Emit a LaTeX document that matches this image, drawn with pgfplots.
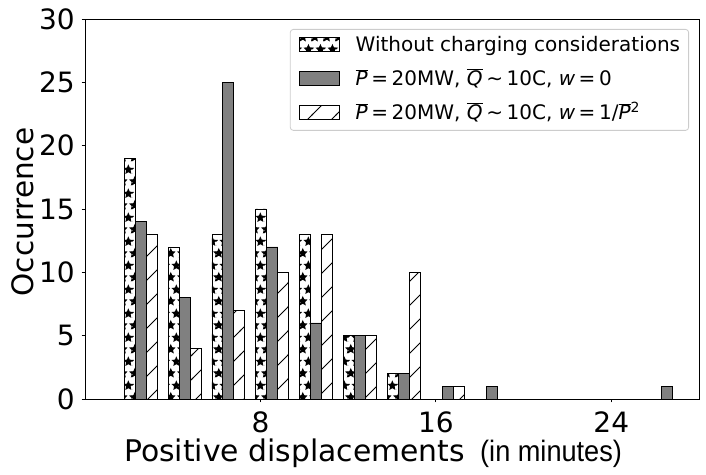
\documentclass[border=0pt]{standalone}
\usepackage{fontspec}
\setmainfont{DejaVu Sans}
\newfontfamily\libsans{Liberation Sans}
\usepackage{pgfplots}
\pgfplotsset{compat=1.18}
\usetikzlibrary{patterns}

% five-pointed star, outer radius 5.5bp, inner 2.6bp
\newcommand\starat[2]{%
\pgfpathmoveto{\pgfpoint{#1+0bp}{#2+5.5bp}}%
\pgfpathlineto{\pgfpoint{#1-1.53bp}{#2+2.10bp}}%
\pgfpathlineto{\pgfpoint{#1-5.23bp}{#2+1.70bp}}%
\pgfpathlineto{\pgfpoint{#1-2.47bp}{#2-0.80bp}}%
\pgfpathlineto{\pgfpoint{#1-3.23bp}{#2-4.45bp}}%
\pgfpathlineto{\pgfpoint{#1+0bp}{#2-2.6bp}}%
\pgfpathlineto{\pgfpoint{#1+3.23bp}{#2-4.45bp}}%
\pgfpathlineto{\pgfpoint{#1+2.47bp}{#2-0.80bp}}%
\pgfpathlineto{\pgfpoint{#1+5.23bp}{#2+1.70bp}}%
\pgfpathlineto{\pgfpoint{#1+1.53bp}{#2+2.10bp}}%
\pgfpathclose}

\pgfdeclarepatternformonly{mystars}{\pgfpointorigin}{\pgfpoint{12bp}{24bp}}{\pgfpoint{12bp}{24bp}}{%
\starat{3bp}{6bp}\starat{15bp}{6bp}\starat{9bp}{18bp}\starat{-3bp}{18bp}\pgfusepath{fill}}

\pgfdeclarepatternformonly{myhatch}{\pgfpoint{-1bp}{-1bp}}{\pgfpoint{25bp}{25bp}}{\pgfpoint{24bp}{24bp}}{%
\pgfsetlinewidth{0.8bp}\pgfpathmoveto{\pgfpoint{-1bp}{-1bp}}\pgfpathlineto{\pgfpoint{25bp}{25bp}}\pgfusepath{stroke}}

\newcommand\ovl[1]{\ensuremath{\overline{\hbox{\itshape #1}}}}
\newcommand\rs{\hspace{0.18em}}

\begin{document}
\begin{tikzpicture}
\useasboundingbox (0bp,0bp) rectangle (706bp,475bp);
\begin{axis}[
  at={(85bp,76bp)}, anchor=south west,
  width=614bp, height=380bp, scale only axis,
  xmin=0, xmax=28, ymin=0, ymax=30,
  xtick={8,16,24}, ytick={0,5,10,15,20,25,30},
  tick align=outside, tick pos=left,
  major tick length=3.5bp,
  every tick/.style={black, line width=0.8bp},
  axis line style={line width=0.8bp, black},
  tick label style={font=\fontsize{28bp}{28bp}\selectfont},
  /pgf/number format/assume math mode=true,
  yticklabel style={anchor=east, inner sep=0pt, xshift=-6.5bp},
  xticklabel style={anchor=north, inner sep=0pt, yshift=-9bp},
  legend image code/.code={\draw[#1, sharp corners] (0bp,0bp) rectangle (40bp,14bp);},
  legend cell align=left,
  legend style={at={(axis description cs:1,1)}, anchor=north east,
    xshift=-10bp, yshift=-10bp, draw=black!20, line width=0.8bp,
    rounded corners=3bp, fill=white,
    inner xsep=8.5bp, inner ysep=6.5bp, row sep=14bp,
    font=\fontsize{20bp}{24bp}\selectfont,
    nodes={inner sep=0pt, anchor=base west, text height=16bp, text depth=4bp},
    /tikz/every odd column/.append style={column sep=16bp}},
]
\addplot[ybar, bar width=0.5, bar shift=0pt, draw=black, line width=0.9bp, pattern=mystars, pattern color=black]
  coordinates {(2.04,19) (4.04,12) (6.04,13) (8.04,15) (10.04,13) (12.04,5) (14.04,2)};
\addlegendentry{Without charging considerations}
\addplot[ybar, bar width=0.5, bar shift=0pt, draw=black, line width=0.9bp, fill=black!50]
  coordinates {(2.54,14) (4.54,8) (6.54,25) (8.54,12) (10.54,6) (12.54,5) (14.54,2) (16.54,1) (18.54,1) (26.54,1)};
\addlegendentry{\ovl{P}\rs=\rs20MW, \ovl{Q}\rs∼\rs10C, {\itshape w}\rs=\rs0}
\addplot[ybar, bar width=0.5, bar shift=0pt, draw=black, line width=0.9bp, pattern=myhatch, pattern color=black]
  coordinates {(3.04,13) (5.04,4) (7.04,7) (9.04,10) (11.04,13) (13.04,5) (15.04,10) (17.04,1)};
\addlegendentry{\ovl{P}\rs=\rs20MW, \ovl{Q}\rs∼\rs10C, {\itshape w}\rs=\rs1/\ovl{P}\textsuperscript{2}}
\end{axis}
\node[rotate=90, anchor=base, inner sep=0pt, font=\fontsize{29.5bp}{30bp}\selectfont] at (33bp,263bp) {Occurrence};
\node[anchor=base west, inner sep=0pt, font=\fontsize{29.8bp}{30bp}\selectfont] at (124bp,13.3bp) {Positive displacements};
\node[anchor=base west, inner sep=0pt] at (480bp,13.3bp) {\scalebox{0.92}[1]{\libsans\fontsize{29.5bp}{30bp}\selectfont (in minutes)}};
\end{tikzpicture}
\end{document}
